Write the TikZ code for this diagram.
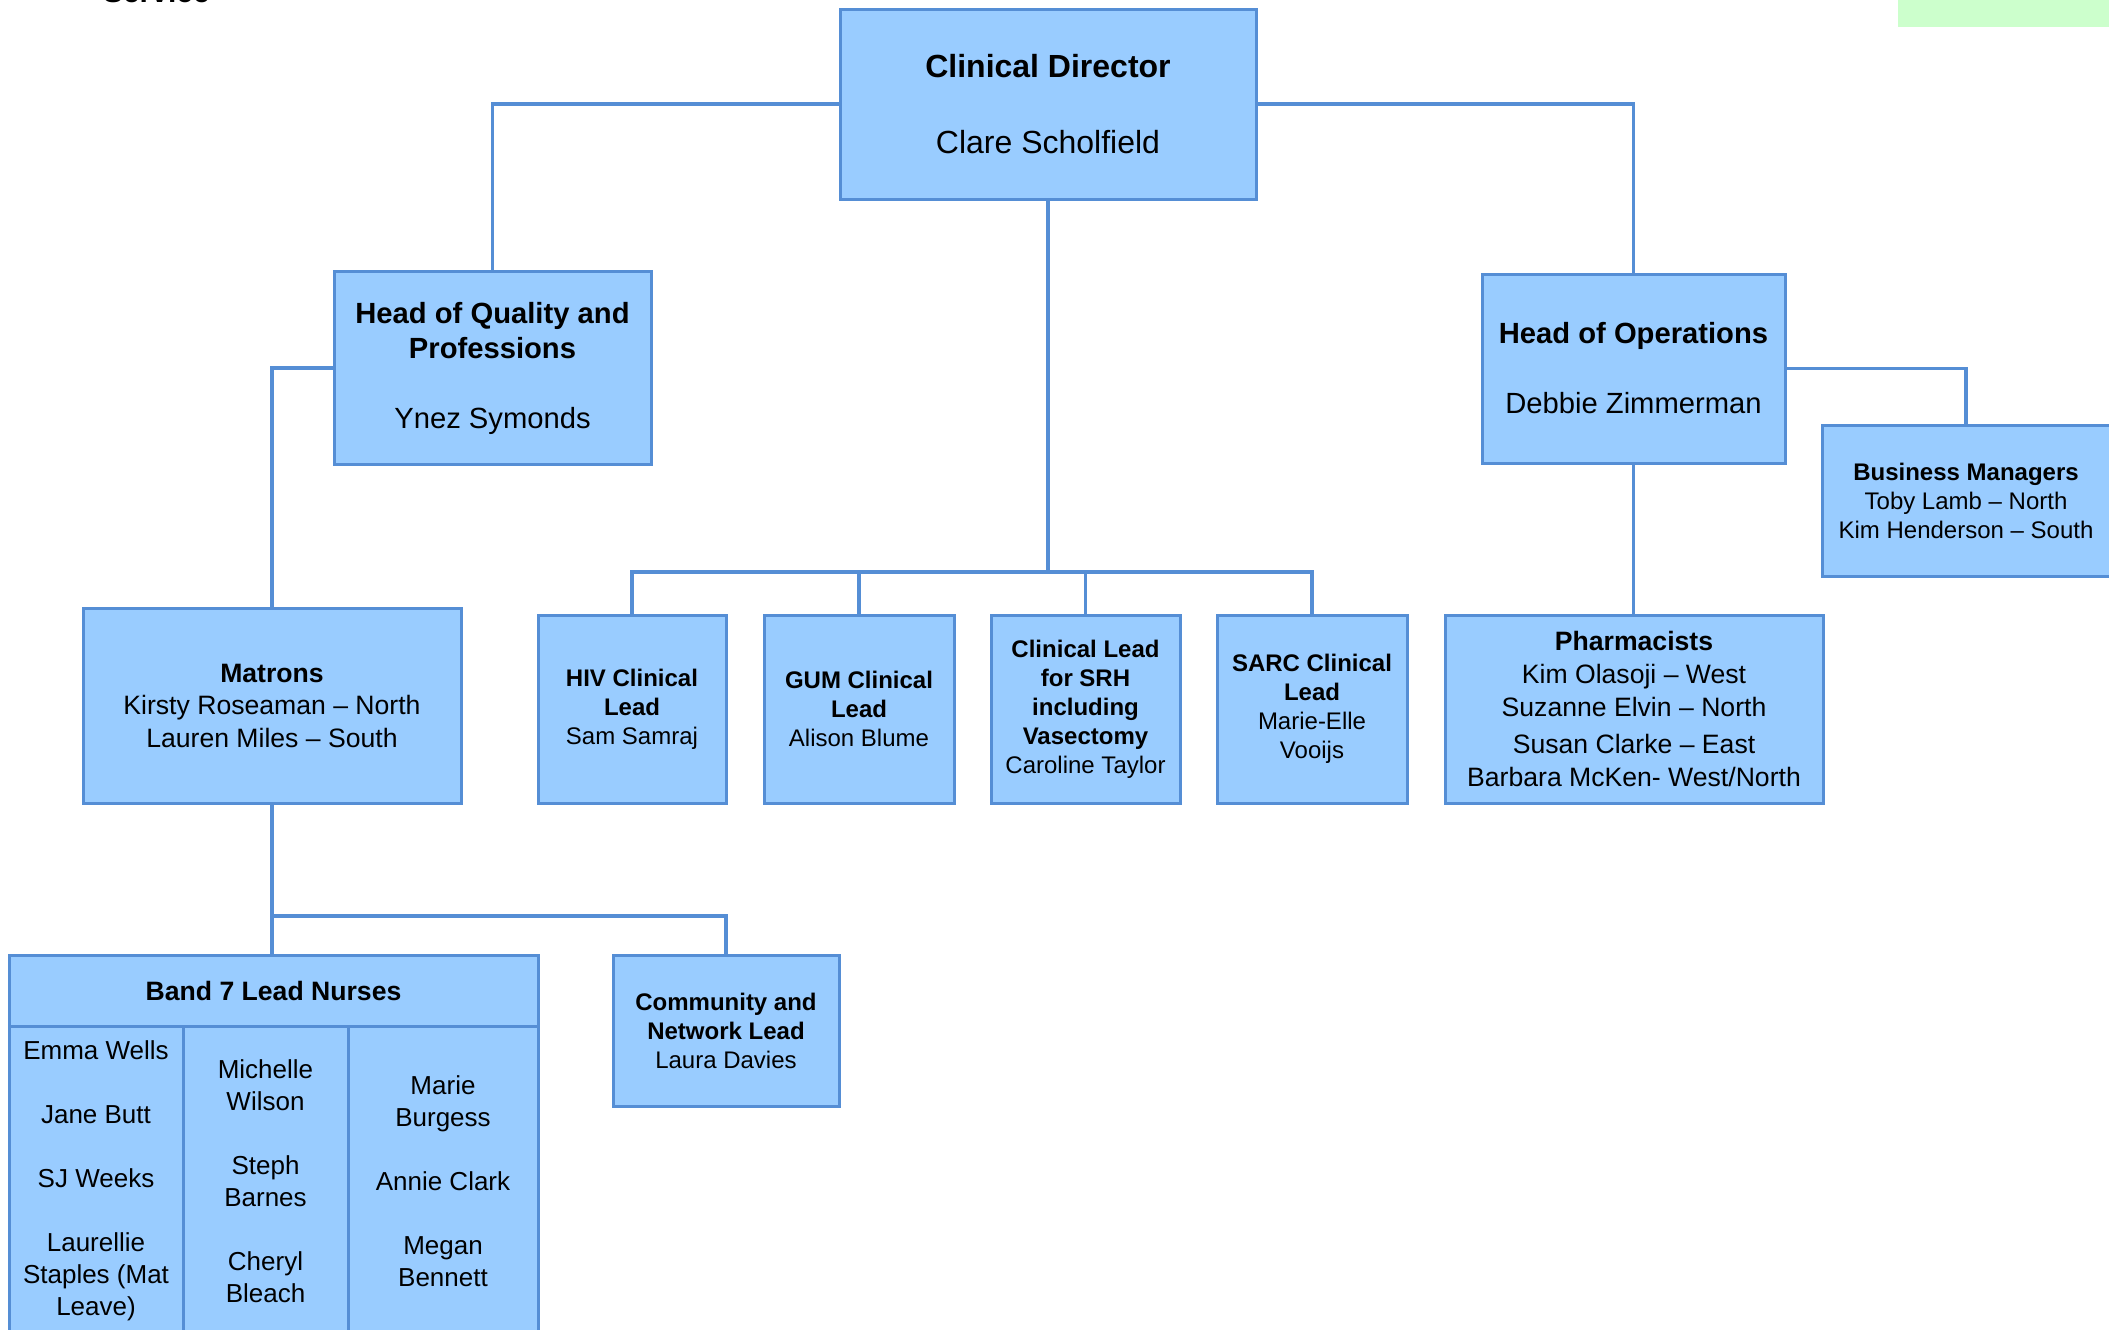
\documentclass[tikz,border=0pt]{standalone}
\usepackage{fontspec}
\setmainfont{Liberation Sans}
\definecolor{boxfill}{HTML}{99CCFF}
\definecolor{bord}{HTML}{558ED5}
\definecolor{greenbar}{HTML}{CCFFCC}
\newcommand\fsz[2]{\fontsize{#1}{#2}\selectfont}
\tikzset{
  box/.style={draw=bord, fill=boxfill, line width=1.5pt, inner sep=0pt, outer sep=0pt, align=center},
  conn/.style={draw=bord, line width=1.75pt},
  plain/.style={inner sep=0pt, outer sep=0pt, align=center}
}
\begin{document}
\begin{tikzpicture}[x=0.5pt, y=-0.5pt]
\useasboundingbox (0,0) rectangle (2109,1329);
\clip (0,0) rectangle (2109,1329);
\fill[greenbar] (1898,-5) rectangle (2115,27);
\node[plain, anchor=base west, font=\fsz{15}{18}\bfseries] (svc) at (103,2) {Service};

% top
\node[box, minimum width=208pt, minimum height=95pt, font=\fsz{16}{19}] (cd) at (1048,104)
  {\textbf{Clinical Director}\\[19pt]Clare Scholfield};
\node[box, minimum width=158.5pt, minimum height=96.5pt, font=\fsz{14.6}{17.5}] (hoq) at (492.5,368)
  {\textbf{Head of Quality and}\\\textbf{Professions}\\[17.5pt]Ynez Symonds};
\node[box, minimum width=151.5pt, minimum height=94.5pt, font=\fsz{14.6}{17.5}] (hoo) at (1633.5,368.5)
  {\textbf{Head of Operations}\\[17.5pt]Debbie Zimmerman};
\node[box, minimum width=144pt, minimum height=75.5pt, font=\fsz{12}{14.5}] (bm) at (1966,500.5)
  {\textbf{Business Managers}\\Toby Lamb – North\\Kim Henderson – South};

% middle row
\node[box, minimum width=189pt, minimum height=97.5pt, font=\fsz{13.3}{16.25}] (mat) at (272,705.5)
  {\textbf{Matrons}\\Kirsty Roseaman – North\\Lauren Miles – South};
\node[box, minimum width=94pt, minimum height=94pt, font=\fsz{12}{14.5}] (hiv) at (632,709)
  {\textbf{HIV Clinical}\\\textbf{Lead}\\Sam Samraj};
\node[box, minimum width=95pt, minimum height=94pt, font=\fsz{12}{14.5}] (gum) at (859,709)
  {\textbf{GUM Clinical}\\\textbf{Lead}\\Alison Blume};
\node[box, minimum width=94.5pt, minimum height=94pt, font=\fsz{12}{14.5}] (srh) at (1085.5,709)
  {\textbf{Clinical Lead}\\\textbf{for SRH}\\\textbf{including}\\\textbf{Vasectomy}\\Caroline Taylor};
\node[box, minimum width=95pt, minimum height=94pt, font=\fsz{12}{14.5}] (sarc) at (1312,709)
  {\textbf{SARC Clinical}\\\textbf{Lead}\\Marie-Elle\\Vooijs};
\node[box, minimum width=189pt, minimum height=94pt, font=\fsz{13.3}{16.5}] (pharm) at (1634,709)
  {\textbf{Pharmacists}\\Kim Olasoji – West\\Suzanne Elvin – North\\[2pt]Susan Clarke – East\\Barbara McKen- West/North};

% bottom
\node[box, minimum width=264.5pt, minimum height=35.5pt, font=\fsz{13.3}{16}\bfseries] (b7h) at (273.5,990.5)
  {Band 7 Lead Nurses};
\node[box, minimum width=87pt, minimum height=159.5pt] (b7a) at (96,1185.5) {};
\node[box, minimum width=82.5pt, minimum height=159.5pt] (b7b) at (265.5,1185.5) {};
\node[box, minimum width=95pt, minimum height=159.5pt] (b7c) at (443,1185.5) {};
\node[plain, font=\fsz{13}{16}] (t7a) at (96,1181)
  {Emma Wells\\[16pt]Jane Butt\\[16pt]SJ Weeks\\[16pt]Laurellie\\Staples (Mat\\Leave)};
\node[plain, font=\fsz{13}{16}] (t7b) at (265.5,1181)
  {Michelle\\Wilson\\[16pt]Steph\\Barnes\\[16pt]Cheryl\\Bleach};
\node[plain, font=\fsz{13}{16}] (t7c) at (443,1181)
  {Marie\\Burgess\\[16pt]Annie Clark\\[16pt]Megan\\Bennett};
\node[box, minimum width=113pt, minimum height=75.5pt, font=\fsz{12}{14.5}] (comm) at (726,1030.5)
  {\textbf{Community and}\\\textbf{Network Lead}\\Laura Davies};

% connectors
\coordinate (bus) at (1048,572);
\coordinate (mbus) at (272,916);
\draw[conn] (cd.west) -- (cd.west -| hoq.north) -- (hoq.north);
\draw[conn] (cd.east) -- (cd.east -| hoo.north) -- (hoo.north);
\draw[conn] (hoq.west) -- (hoq.west -| mat.north) -- (mat.north);
\draw[conn] (hoo.east) -- (hoo.east -| bm.north) -- (bm.north);
\draw[conn] (hoo.south) -- (hoo.south |- pharm.north);
\draw[conn] (cd.south) -- (bus);
\draw[conn] (hiv.north) -- (hiv.north |- bus) -- (sarc.north |- bus) -- (sarc.north);
\draw[conn] (gum.north) -- (gum.north |- bus);
\draw[conn] (srh.north) -- (srh.north |- bus);
\draw[conn] (mat.south) -- (mat.south |- b7h.north);
\draw[conn] (mbus) -- (mbus -| comm.north) -- (comm.north);
\end{tikzpicture}
\end{document}
